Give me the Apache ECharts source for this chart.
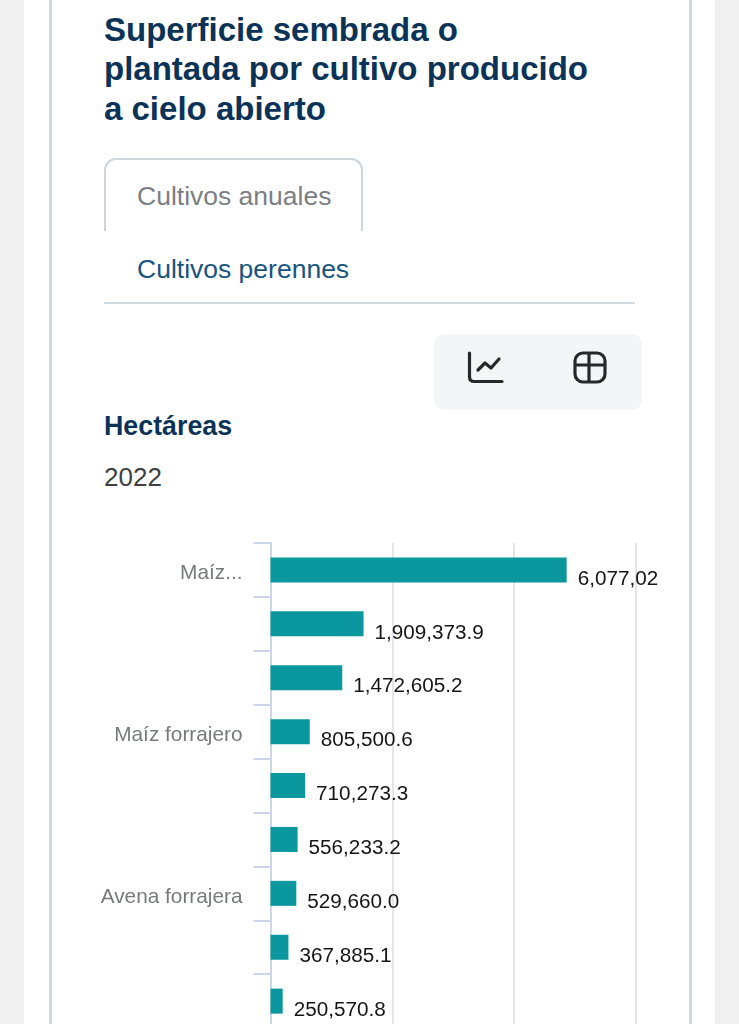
<!DOCTYPE html>
<html lang="es">
<head>
<meta charset="utf-8">
<script src="https://cdn.jsdelivr.net/npm/echarts@6/dist/echarts.min.js"></script>
<style>
html,body{margin:0;padding:0;width:739px;height:1024px;overflow:hidden;background:#f0f0f1;font-family:"Liberation Sans",Arial,sans-serif}
.abs{position:absolute;white-space:nowrap}
#card{left:24px;top:0;width:691px;height:1024px;background:#fff}
#inner{left:49px;top:-5px;width:637px;height:1040px;border:3px solid #cfd9e2;border-radius:6px;background:#fff}
.title{left:104px;font-weight:bold;font-size:33px;line-height:40px;color:#0b3358}
#tab{left:104px;top:158px;width:255px;height:71px;border:2px solid #cdd6df;border-bottom:none;border-radius:12px 12px 0 0;box-sizing:content-box}
#rule{left:104px;top:302px;width:531px;height:2px;background:#cfdae2}
#tools{left:434px;top:334px;width:208px;height:76px;background:#f4f5f7;border-radius:10px}
#chart{left:0;top:0;width:739px;height:1024px}
</style>
</head>
<body>
<div class="abs" id="card"></div>
<div class="abs" id="inner"></div>
<div class="abs title" style="top:10px">Superficie sembrada o</div>
<div class="abs title" style="top:49px">plantada por cultivo producido</div>
<div class="abs title" style="top:89px">a cielo abierto</div>
<div class="abs" id="tab"></div>
<div class="abs" style="left:137px;top:181px;font-size:26.5px;line-height:30px;color:#7b7f84">Cultivos anuales</div>
<div class="abs" style="left:137px;top:254px;font-size:26.5px;line-height:30px;color:#175480">Cultivos perennes</div>
<div class="abs" id="rule"></div>
<div class="abs" id="tools"></div>
<svg class="abs" style="left:466px;top:350px" width="40" height="36" viewBox="0 0 40 36" fill="none" stroke="#26282b" stroke-width="3.2" stroke-linecap="round" stroke-linejoin="round">
<path d="M3.5 3v24q0 4.5 5 4.5H36"/><path d="M12 20l7-7 6 5 8-9"/>
</svg>
<svg class="abs" style="left:572px;top:350px" width="36" height="36" viewBox="0 0 36 36" fill="none" stroke="#26282b" stroke-width="3.2">
<rect x="3" y="3" width="30" height="29" rx="8"/><path d="M3 15H33M17 3V32"/>
</svg>
<div class="abs" style="left:104px;top:411px;font-weight:bold;font-size:26.8px;line-height:30px;color:#0b3358">Hectáreas</div>
<div class="abs" style="left:104px;top:462px;font-size:26px;line-height:30px;color:#3d3f42">2022</div>
<div class="abs" id="chart"></div>
<script>
const categories = ["Maíz...", "", "", "Maíz forrajero", "", "", "Avena forrajera", "", ""];
const hectares = [6077020, 1909373.9, 1472605.2, 805500.6, 710273.3, 556233.2, 529660.0, 367885.1, 250570.8];
const valueLabels = ["6,077,02", "1,909,373.9", "1,472,605.2", "805,500.6", "710,273.3", "556,233.2", "529,660.0", "367,885.1", "250,570.8"];

const chart = echarts.init(document.getElementById('chart'), null, {renderer: 'canvas'});
chart.setOption({
  backgroundColor: 'transparent',
  animation: false,
  grid: {left: 270.5, top: 543, width: 365.5, height: 485.1, containLabel: false, outerBoundsMode: 'none'},
  xAxis: {
    type: 'value', min: 0, max: 7500000, interval: 2500000,
    axisLabel: {show: false}, axisLine: {show: false}, axisTick: {show: false},
    splitLine: {show: true, lineStyle: {color: '#e3e5ea', width: 2}}
  },
  yAxis: {
    type: 'category', inverse: true, data: categories,
    axisLine: {show: true, lineStyle: {color: '#cbd6ea', width: 2}},
    axisTick: {show: true, length: 17, lineStyle: {color: '#cbd6ea', width: 2}},
    axisLabel: {interval: 0, margin: 28, fontSize: 20.8, color: '#77797c', fontFamily: 'Liberation Sans', lineHeight: 7, verticalAlign: 'top'}
  },
  series: [{
    type: 'bar', data: hectares, barWidth: 25, silent: true,
    itemStyle: {color: '#0a979d'},
    label: {
      show: true, position: 'right', distance: 11, offset: [0, 9],
      fontSize: 20.7, color: '#151515', fontFamily: 'Liberation Sans',
      formatter: p => valueLabels[p.dataIndex]
    }
  }]
});
</script>
</body>
</html>
